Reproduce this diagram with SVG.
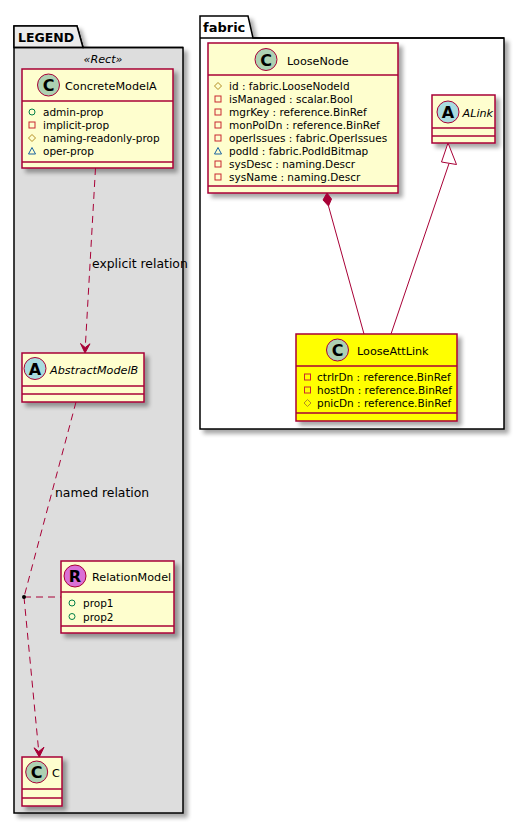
<svg xmlns="http://www.w3.org/2000/svg" width="525" height="824" viewBox="0 0 525 824">
<defs>
<filter id="sh" x="-20%" y="-20%" width="150%" height="150%">
<feGaussianBlur in="SourceAlpha" stdDeviation="2"/>
<feOffset dx="4" dy="4" result="o"/>
<feComponentTransfer><feFuncA type="linear" slope="0.35"/></feComponentTransfer>
<feMerge><feMergeNode/><feMergeNode in="SourceGraphic"/></feMerge>
</filter>
<style>
.pkgbody{stroke:#000;stroke-width:1.5;}
.cls{fill:#FEFECE;stroke:#A80036;stroke-width:1.5;}
.sep{stroke:#A80036;stroke-width:1.5;}
.name{font-family:"DejaVu Sans",sans-serif;font-size:11.2px;fill:#000;}
.it{font-style:italic;}
.attr{font-family:"DejaVu Sans",sans-serif;font-size:10.5px;fill:#000;}
.circ{stroke:#A80036;stroke-width:1;}
.letter{font-family:"DejaVu Sans",sans-serif;font-weight:bold;font-size:16px;text-anchor:middle;fill:#000;}
.pub{fill:none;stroke:#038048;stroke-width:1;}
.priv{fill:none;stroke:#C82930;stroke-width:1;}
.prot{fill:none;stroke:#B38D22;stroke-width:1;}
.pk{fill:none;stroke:#1963A0;stroke-width:1;}
.edge{stroke:#A80036;fill:none;stroke-width:1;}
.dash{stroke-dasharray:7,5;}
.head{fill:#A80036;stroke:#A80036;stroke-width:1;}
.lbl{font-family:"DejaVu Sans",sans-serif;font-size:12.4px;fill:#000;}
.tab{font-family:"DejaVu Sans",sans-serif;font-weight:bold;fill:#000;}
</style>
</defs>
<rect width="525" height="824" fill="#FFFFFF"/>

<g id="LEGEND">
<path class="pkgbody" filter="url(#sh)" fill="#DDDDDD" d="M14,47.5 L14,26 L77,26 L83,47.5 L183,47.5 L183,813 L14,813 Z"/>
<path fill="#EBEBEB" stroke="#000" stroke-width="1.5" d="M14,47.5 L14,26 L77,26 L83,47.5 Z"/>
<line x1="14" y1="47.5" x2="183" y2="47.5" stroke="#000" stroke-width="1.5"/>
<text class="tab" x="18" y="42" font-size="12.5">LEGEND</text>
<text class="name it" x="103" y="63" text-anchor="middle" font-size="12">«Rect»</text>
</g>

<g id="fabric">
<path class="pkgbody" filter="url(#sh)" fill="#FFFFFF" d="M200,38 L200,16 L248,16 L253,38 L504,38 L504,429 L200,429 Z"/>
<line x1="200" y1="38" x2="504" y2="38" stroke="#000" stroke-width="1.5"/>
<text class="tab" x="203" y="32" font-size="13">fabric</text>
</g>

<g id="ConcreteModelA">
<rect class="cls" filter="url(#sh)" x="22" y="69" width="151" height="99"/>
<line class="sep" x1="22" y1="101" x2="173" y2="101"/>
<line class="sep" x1="22" y1="162" x2="173" y2="162"/>
<circle class="circ" cx="48.5" cy="85" r="11" fill="#ADD1B2"/>
<text class="letter" x="48.5" y="91">C</text>
<text class="name" x="65" y="90">ConcreteModelA</text>
<circle class="pub" cx="32" cy="112" r="3"/>
<text class="attr" x="43" y="116">admin-prop</text>
<rect class="priv" x="29" y="122" width="6" height="6"/>
<text class="attr" x="43" y="129">implicit-prop</text>
<polygon class="prot" points="32,134.5 35.5,138 32,141.5 28.5,138"/>
<text class="attr" x="43" y="142">naming-readonly-prop</text>
<polygon class="pk" points="28.5,154 32,147.5 35.5,154"/>
<text class="attr" x="43" y="155">oper-prop</text>
</g>

<g id="AbstractModelB">
<rect class="cls" filter="url(#sh)" x="22" y="353" width="122" height="49"/>
<line class="sep" x1="22" y1="386" x2="144" y2="386"/>
<line class="sep" x1="22" y1="394" x2="144" y2="394"/>
<circle class="circ" cx="35" cy="368.5" r="11" fill="#A9DCDF"/>
<text class="letter" x="35" y="374.5">A</text>
<text class="name it" x="50" y="374">AbstractModelB</text>
</g>

<g id="RelationModel">
<rect class="cls" filter="url(#sh)" x="61" y="561" width="113" height="72"/>
<line class="sep" x1="61" y1="592" x2="174" y2="592"/>
<line class="sep" x1="61" y1="626" x2="174" y2="626"/>
<circle class="circ" cx="75" cy="576" r="11" fill="#DA70D6"/>
<text class="letter" x="75" y="582">R</text>
<text class="name" x="92" y="581">RelationModel</text>
<circle class="pub" cx="72" cy="603" r="3"/>
<text class="attr" x="83" y="607">prop1</text>
<circle class="pub" cx="72" cy="616.5" r="3"/>
<text class="attr" x="83" y="620.5">prop2</text>
</g>

<g id="C">
<rect class="cls" filter="url(#sh)" x="22" y="757" width="40" height="49"/>
<line class="sep" x1="22" y1="789" x2="62" y2="789"/>
<line class="sep" x1="22" y1="798" x2="62" y2="798"/>
<circle class="circ" cx="36.7" cy="772" r="11" fill="#ADD1B2"/>
<text class="letter" x="36.7" y="778">C</text>
<text class="name" x="52" y="777">C</text>
</g>

<g id="LooseNode">
<rect class="cls" filter="url(#sh)" x="208" y="43" width="190" height="150"/>
<line class="sep" x1="208" y1="75" x2="398" y2="75"/>
<line class="sep" x1="208" y1="186" x2="398" y2="186"/>
<circle class="circ" cx="266" cy="59.5" r="11" fill="#ADD1B2"/>
<text class="letter" x="266" y="65.5">C</text>
<text class="name" x="287" y="64.5">LooseNode</text>
<polygon class="prot" points="218,82.5 221.5,86 218,89.5 214.5,86"/>
<text class="attr" x="229" y="90">id : fabric.LooseNodeId</text>
<rect class="priv" x="215" y="96" width="6" height="6"/>
<text class="attr" x="229" y="103">isManaged : scalar.Bool</text>
<rect class="priv" x="215" y="109" width="6" height="6"/>
<text class="attr" x="229" y="116">mgrKey : reference.BinRef</text>
<rect class="priv" x="215" y="122" width="6" height="6"/>
<text class="attr" x="229" y="129">monPolDn : reference.BinRef</text>
<rect class="priv" x="215" y="135" width="6" height="6"/>
<text class="attr" x="229" y="142">operIssues : fabric.OperIssues</text>
<polygon class="pk" points="214.5,154 218,147.5 221.5,154"/>
<text class="attr" x="229" y="155">podId : fabric.PodIdBitmap</text>
<rect class="priv" x="215" y="161" width="6" height="6"/>
<text class="attr" x="229" y="168">sysDesc : naming.Descr</text>
<rect class="priv" x="215" y="174" width="6" height="6"/>
<text class="attr" x="229" y="181">sysName : naming.Descr</text>
</g>

<g id="ALink">
<rect class="cls" filter="url(#sh)" x="432" y="95" width="63" height="48"/>
<line class="sep" x1="432" y1="128" x2="495" y2="128"/>
<line class="sep" x1="432" y1="136" x2="495" y2="136"/>
<circle class="circ" cx="448" cy="112" r="11" fill="#A9DCDF"/>
<text class="letter" x="448" y="118">A</text>
<text class="name it" x="462.5" y="116.5">ALink</text>
</g>

<g id="LooseAttLink">
<rect class="cls" filter="url(#sh)" x="296" y="334" width="161" height="87" style="fill:#FFFF00"/>
<line class="sep" x1="296" y1="366" x2="457" y2="366"/>
<line class="sep" x1="296" y1="413" x2="457" y2="413"/>
<circle class="circ" cx="337.5" cy="350" r="11" fill="#ADD1B2"/>
<text class="letter" x="337.5" y="356">C</text>
<text class="name" x="357" y="355">LooseAttLink</text>
<rect class="priv" x="304.5" y="374" width="6" height="6"/>
<text class="attr" x="317" y="381">ctrlrDn : reference.BinRef</text>
<rect class="priv" x="304.5" y="387" width="6" height="6"/>
<text class="attr" x="317" y="394">hostDn : reference.BinRef</text>
<polygon class="prot" points="307.5,399.5 311,403 307.5,406.5 304,403"/>
<text class="attr" x="317" y="407">pnicDn : reference.BinRef</text>
</g>

<g id="connectors">
<path class="edge dash" d="M95.5,168 L85.3,347"/>
<polygon class="head" points="85,353 80.5,343.5 85.2,347.5 90,343.8"/>
<text class="lbl" x="92" y="268">explicit relation</text>

<path class="edge dash" d="M76,402 L24,597"/>
<text class="lbl" x="55" y="496.5">named relation</text>
<path class="edge dash" d="M24,597 L38.7,751"/>
<polygon class="head" points="39.3,757 34,747.8 38.8,751.5 44,747.2"/>
<path class="edge dash" d="M24,597 L61,597"/>
<circle cx="24" cy="597" r="2" fill="#000"/>

<polygon class="head" points="327,193 331.5,199 328.5,206 323,200"/>
<path class="edge" d="M328.5,206 L364,334"/>

<polygon points="448,143 441.5,162 456.5,164.5" fill="#FFFFFF" stroke="#A80036" stroke-width="1"/>
<path class="edge" d="M449,163.5 L391,334"/>
</g>
</svg>
